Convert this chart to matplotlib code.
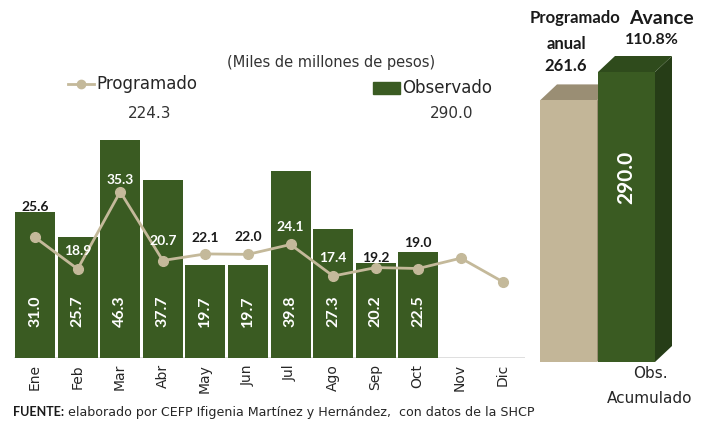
import matplotlib
matplotlib.use("Agg")
import matplotlib.pyplot as plt
from matplotlib.patches import Polygon, Rectangle
import numpy as np

# data (miles de millones de pesos)
meses = ['Ene', 'Feb', 'Mar', 'Abr', 'May', 'Jun', 'Jul', 'Ago', 'Sep', 'Oct', 'Nov', 'Dic']
observado = [31.0, 25.7, 46.3, 37.7, 19.7, 19.7, 39.8, 27.3, 20.2, 22.5]
programado = [25.6, 18.9, 35.3, 20.7, 22.1, 22.0, 24.1, 17.4, 19.2, 19.0, 21.2, 16.1]
prog_acum = 224.3
obs_acum = 290.0
prog_anual = 261.6
avance = 110.8

GREEN = '#3a5b22'
GREEN_SIDE = '#263d17'
GREEN_TOP = '#2f4b1c'
TAN = '#c3b698'
TAN_TOP = '#9a8e74'
LINE = '#c4b99a'
DARK = '#1a1a1a'
TXT = '#262626'
NUMF = 'Lato'
REGF = 'DejaVu Sans'

W, H = 712, 423
fig = plt.figure(figsize=(W / 100, H / 100), dpi=100)
plt.rcParams['font.family'] = REGF


def px(x, y):
    # pixel position (from top-left) -> figure fraction
    return x / W, 1 - y / H


# ---- monthly chart ----
base_y = 358
top_y = 75.4
ymax = 60
ax = fig.add_axes([13.75 / W, 1 - base_y / H, (524.75 - 13.75) / W, (base_y - top_y) / H])
x = np.arange(len(meses))
xo = x[:len(observado)]
ax.bar(xo, observado, width=0.94, color=GREEN, edgecolor='none', zorder=2)
ax.plot(x, programado, color=LINE, lw=2, marker='o', ms=7, zorder=3)
ax.axhline(0, color='#d9d9d9', lw=1.2, zorder=1)
ax.set_xlim(-0.5, len(meses) - 0.5)
ax.set_ylim(0, ymax)
ax.axis('off')

# observed values inside bars
for xi, v in zip(xo, observado):
    ax.text(xi, 10, f'{v:.1f}', rotation=90, ha='center', va='center', family=NUMF,
            color='white', fontsize=11.5, fontweight='bold', zorder=4)

# programado labels above points (offset in px)
offs = [30, 18, 12, 20, 16, 17, 17, 18, 10, 26]
for i, (xi, v) in enumerate(zip(x[:len(offs)], programado)):
    ly = v + offs[i] / 4.71
    col = 'white' if ly < observado[i] else DARK
    ax.text(xi, ly, f'{v:.1f}', ha='center', va='center', color=col, family=NUMF,
            fontsize=10, fontweight='bold', zorder=4)

# month labels
for xi, m in zip(x, meses):
    fx, fy = px(35 + 42.5 * xi, 364)
    fig.text(fx, fy, m, rotation=90, ha='center', va='top', fontsize=10, color=TXT)

# title / legend
fig.text(*px(331, 62), '(Miles de millones de pesos)', ha='center', va='center', fontsize=10.5, color='#333333')
fig.lines.append(plt.Line2D([68 / W, 81 / W, 94 / W], [1 - 84 / H] * 3, color=LINE, lw=2,
                            marker='o', markevery=[1], ms=6, transform=fig.transFigure))
fig.text(*px(96, 84), 'Programado', ha='left', va='center', fontsize=12, color=TXT)
fig.text(*px(150, 113), f'{prog_acum:.1f}', ha='center', va='center', fontsize=11, color='#333333')
fig.patches.append(Rectangle(px(373, 94), 27 / W, 12 / H, color=GREEN, transform=fig.transFigure))
fig.text(*px(402, 88), 'Observado', ha='left', va='center', fontsize=12, color=TXT)
fig.text(*px(452, 114), f'{obs_acum:.1f}', ha='center', va='center', fontsize=11, color='#333333')

# ---- cumulative 3D bars ----
rb = 362
ax2 = fig.add_axes([520 / W, 1 - rb / H, 192 / W, rb / H])
ax2.set_xlim(0, 192)
ax2.set_ylim(0, rb)
ax2.axis('off')
dx, dy = 17, 16
for x0, val, front, top, side in [(20, prog_anual, TAN, TAN_TOP, TAN_TOP),
                                  (78, obs_acum, GREEN, GREEN_TOP, GREEN_SIDE)]:
    w = 57
    ax2.add_patch(Polygon([(x0 + w, 0), (x0 + w + dx, dy), (x0 + w + dx, val + dy), (x0 + w, val)],
                          closed=True, color=side, lw=0))
    ax2.add_patch(Polygon([(x0, val), (x0 + dx, val + dy), (x0 + w + dx, val + dy), (x0 + w, val)],
                          closed=True, color=top, lw=0))
    ax2.add_patch(Rectangle((x0, 0), w, val, color=front, lw=0))
ax2.text(78 + 28.5, obs_acum / 2 + 40, f'{obs_acum:.1f}', rotation=90, ha='center', va='center',
         color='white', fontsize=15, fontweight='bold', family=NUMF)

fig.text(*px(620, 18), 'Programado', ha='right', va='center', fontsize=12, fontweight='bold', color=DARK, family=NUMF)
fig.text(*px(566, 44), 'anual', ha='center', va='center', fontsize=12, fontweight='bold', color=DARK, family=NUMF)
fig.text(*px(566, 66), f'{prog_anual:.1f}', ha='center', va='center', fontsize=12, fontweight='bold', color=DARK, family=NUMF)
fig.text(*px(661, 18), 'Avance', ha='center', va='center', fontsize=14, fontweight='bold', color=DARK, family=NUMF)
fig.text(*px(652, 40), f'{avance:.1f}%', ha='center', va='center', fontsize=11.5, fontweight='bold', color=DARK, family=NUMF)
fig.text(*px(650, 373), 'Obs.', ha='center', va='center', fontsize=11, color=TXT)
fig.text(*px(650, 398), 'Acumulado', ha='center', va='center', fontsize=11, color=TXT)

# source
src = fig.text(*px(13, 412), 'FUENTE:', ha='left', va='center', fontsize=9, fontweight='bold',
               color=DARK, family=NUMF)
fig.canvas.draw()
bb = src.get_window_extent()
fig.text((bb.x1 + 4) / W, 1 - 412 / H,
         'elaborado por CEFP Ifigenia Martínez y Hernández,  con datos de la SHCP',
         ha='left', va='center', fontsize=9.1, color=TXT)

fig.savefig('out.png', dpi=100, facecolor='white')
